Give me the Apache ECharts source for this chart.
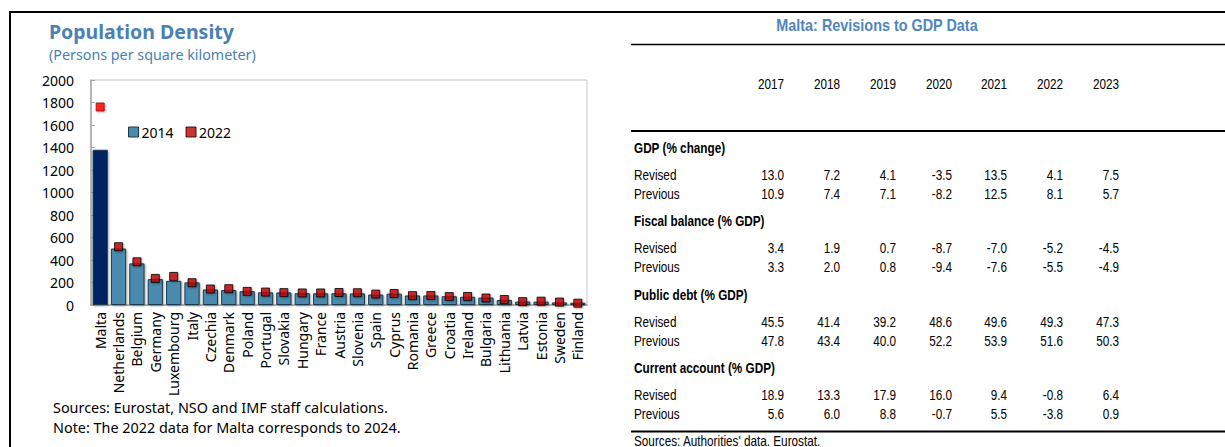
<!DOCTYPE html>
<html>
<head>
<meta charset="utf-8">
<script src="https://cdn.jsdelivr.net/npm/echarts@6/dist/echarts.min.js"></script>
<style>
  html, body { margin: 0; padding: 0; background: #fff; }
  #chart { width: 1225px; height: 447px; }
</style>
</head>
<body>
<div id="chart"></div>
<script>
// Population density, persons per km2
const countries = ['Malta', 'Netherlands', 'Belgium', 'Germany', 'Luxembourg', 'Italy', 'Czechia',
  'Denmark', 'Poland', 'Portugal', 'Slovakia', 'Hungary', 'France', 'Austria', 'Slovenia', 'Spain',
  'Cyprus', 'Romania', 'Greece', 'Croatia', 'Ireland', 'Bulgaria', 'Lithuania', 'Latvia', 'Estonia',
  'Sweden', 'Finland'];
const density2014 = [1380, 502, 370, 230, 215, 201, 138, 133, 123, 113, 112, 105, 104, 104, 103, 93,
  101, 85, 85, 78, 73, 66, 45, 31, 30, 23, 20];
const density2022 = [1760, 518, 384, 236, 254, 198, 142, 145, 121, 115, 110, 107, 107, 111, 109, 97,
  102, 83, 84, 75, 76, 62, 49, 30, 34, 26, 16];
const yTicks = [0, 200, 400, 600, 800, 1000, 1200, 1400, 1600, 1800, 2000];

// Malta: revisions to GDP data
const years = ['2017', '2018', '2019', '2020', '2021', '2022', '2023'];
const gdpRevised = [13.0, 7.2, 4.1, -3.5, 13.5, 4.1, 7.5];
const gdpPrevious = [10.9, 7.4, 7.1, -8.2, 12.5, 8.1, 5.7];
const fiscalRevised = [3.4, 1.9, 0.7, -8.7, -7.0, -5.2, -4.5];
const fiscalPrevious = [3.3, 2.0, 0.8, -9.4, -7.6, -5.5, -4.9];
const debtRevised = [45.5, 41.4, 39.2, 48.6, 49.6, 49.3, 47.3];
const debtPrevious = [47.8, 43.4, 40.0, 52.2, 53.9, 51.6, 50.3];
const caRevised = [18.9, 13.3, 17.9, 16.0, 9.4, -0.8, 6.4];
const caPrevious = [5.6, 6.0, 8.8, -0.7, 5.5, -3.8, 0.9];

const sections = [
  { name: 'GDP (% change)', revised: gdpRevised, previous: gdpPrevious },
  { name: 'Fiscal balance (% GDP)', revised: fiscalRevised, previous: fiscalPrevious },
  { name: 'Public debt (% GDP)', revised: debtRevised, previous: debtPrevious },
  { name: 'Current account (% GDP)', revised: caRevised, previous: caPrevious }
];

const chartFont = '"Noto Sans", "Open Sans", sans-serif';
const tableFont = '"Liberation Sans", Arial, sans-serif';
const titleBlue = '#4A80B4';

// ---- table graphics ----
const g = [];
function txt(x, y, text, opts) {
  opts = opts || {};
  g.push({
    type: 'text', x: x, y: y, silent: true,
    scaleX: opts.sx || 1,
    style: {
      text: text,
      font: (opts.weight || 'normal') + ' ' + (opts.size || 14) + 'px ' + (opts.family || tableFont),
      fill: opts.color || '#000',
      textAlign: opts.align || 'left',
      textVerticalAlign: 'middle'
    }
  });
}
function hline(x1, x2, y, w) {
  g.push({ type: 'line', silent: true, shape: { x1: x1, y1: y, x2: x2, y2: y },
    style: { stroke: '#000', lineWidth: w } });
}

// panel frame
hline(9, 1225, 12, 2);
g.push({ type: 'line', silent: true, shape: { x1: 10, y1: 12, x2: 10, y2: 447 },
  style: { stroke: '#000', lineWidth: 2 } });

// left panel texts
txt(49, 31, 'Population Density', { weight: 'bold', size: 19.5, color: titleBlue, family: chartFont });
txt(49, 54, '(Persons per square kilometer)', { size: 14.3, color: titleBlue, family: chartFont });
txt(53, 407, 'Sources: Eurostat, NSO and IMF staff calculations.', { size: 14.4, family: chartFont });
txt(53, 427, 'Note: The 2022 data for Malta corresponds to 2024.', { size: 14.4, family: chartFont });

// right panel table (condensed Arial look)
const SX = 0.84;
const colRight = [784, 840, 896, 952, 1007, 1063, 1119];
txt(877, 25, 'Malta: Revisions to GDP Data', { weight: 'bold', size: 16, color: '#4F86BE', align: 'center', sx: 0.9 });
hline(631, 1225, 44.5, 1.5);
years.forEach((yr, i) => txt(colRight[i], 84, yr, { align: 'right', sx: SX }));
hline(631, 1225, 131, 2);
const sectionTop = [148, 221, 295, 368];
sections.forEach((s, k) => {
  const y0 = sectionTop[k];
  txt(634, y0, s.name, { weight: 'bold', sx: SX });
  txt(634, y0 + 27, 'Revised', { sx: SX });
  txt(634, y0 + 46, 'Previous', { sx: SX });
  s.revised.forEach((v, i) => txt(colRight[i], y0 + 27, v.toFixed(1), { align: 'right', sx: SX }));
  s.previous.forEach((v, i) => txt(colRight[i], y0 + 46, v.toFixed(1), { align: 'right', sx: SX }));
});
hline(631, 1225, 431.5, 2);
txt(634, 441, "Sources: Authorities' data. Eurostat.", { sx: SX });

// ---- chart ----
const chart = echarts.init(document.getElementById('chart'), null, { renderer: 'svg' });

const barData = density2014.map((v, i) => i === 0
  ? { value: v, itemStyle: { color: '#002060' } }
  : v);
const dotData = density2022.map((v, i) => i === 0
  ? { value: v, itemStyle: { color: '#FF0000', borderColor: '#A00000' } }
  : v);

chart.setOption({
  animation: false,
  backgroundColor: '#fff',
  textStyle: { fontFamily: chartFont },
  grid: {
    left: 91, right: 638, top: 80, bottom: 142,
    show: true, borderColor: '#C8C8C8', borderWidth: 1, backgroundColor: 'transparent'
  },
  legend: {
    left: 123, top: 120,
    itemWidth: 10, itemHeight: 10, itemGap: 12,
    textStyle: { fontSize: 14, color: '#000', fontFamily: chartFont, padding: [0, 0, 0, -2] },
    data: [
      { name: '2014', icon: 'rect', itemStyle: { color: '#4A8AAE', borderColor: '#1F3A4D', borderWidth: 1 } },
      { name: '2022', icon: 'rect', itemStyle: { color: '#C00000', borderColor: '#000', borderWidth: 1 } }
    ]
  },
  xAxis: {
    type: 'category',
    data: countries,
    axisLine: { show: true, lineStyle: { color: '#A6A6A6', width: 1.5 } },
    axisTick: { show: false },
    axisLabel: { rotate: 90, interval: 0, fontSize: 14, color: '#000', margin: 7, fontFamily: chartFont }
  },
  yAxis: {
    type: 'value',
    min: yTicks[0], max: yTicks[yTicks.length - 1], interval: 200,
    splitLine: { show: false },
    axisLine: { show: true, lineStyle: { color: '#A6A6A6', width: 1.5 } },
    axisTick: { show: true, inside: true, length: 4, lineStyle: { color: '#A6A6A6' } },
    axisLabel: { fontSize: 14, color: '#000', margin: 17, fontFamily: chartFont,
      formatter: v => String(v) }
  },
  series: [
    {
      name: '2014',
      type: 'bar',
      data: barData,
      barCategoryGap: '17%',
      itemStyle: {
        color: '#4A8AAE', borderColor: '#1F3A4D', borderWidth: 1,
        shadowColor: 'rgba(0,0,0,0.35)', shadowBlur: 2, shadowOffsetX: 1, shadowOffsetY: 1
      },
      z: 2
    },
    {
      name: '2022',
      type: 'scatter',
      data: dotData,
      symbol: 'rect',
      symbolSize: 8,
      itemStyle: {
        color: '#C00000', borderColor: '#000', borderWidth: 1,
        shadowColor: 'rgba(0,0,0,0.35)', shadowBlur: 2, shadowOffsetX: 1, shadowOffsetY: 1
      },
      z: 3
    }
  ],
  graphic: g
});
</script>
</body>
</html>
